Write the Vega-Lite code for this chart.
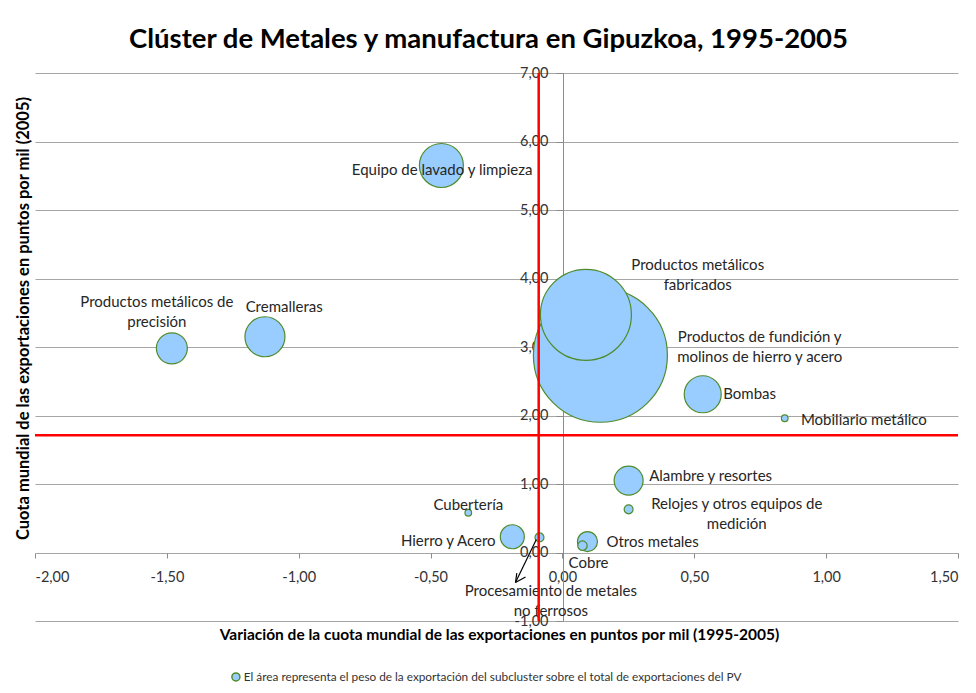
{
  "$schema": "https://vega.github.io/schema/vega-lite/v6.json",
  "width": 923,
  "height": 548,
  "autosize": {"type": "none"},
  "padding": {"left": 35, "top": 73, "right": 18, "bottom": 72},
  "background": "white",
  "config": {
    "view": {"stroke": null},
    "font": "Lato",
    "text": {"font": "Lato"}
  },
  "title": {
    "text": "Clúster de Metales y manufactura en Gipuzkoa, 1995-2005",
    "font": "Lato",
    "fontSize": 27.5,
    "fontWeight": "bold",
    "color": "#000000",
    "anchor": "middle",
    "frame": "group",
    "dx": -8,
    "offset": 12
  },
  "datasets": {
    "bubbles": [
      {"nombre": "Productos de fundición y molinos de hierro y acero", "x": 0.144, "y": 2.88, "peso": 22.45},
      {"nombre": "Productos metálicos fabricados", "x": 0.089, "y": 3.47, "peso": 10.35},
      {"nombre": "Equipo de lavado y limpieza", "x": -0.459, "y": 5.65, "peso": 2.42},
      {"nombre": "Cremalleras", "x": -1.128, "y": 3.15, "peso": 2.0},
      {"nombre": "Bombas", "x": 0.532, "y": 2.31, "peso": 1.71},
      {"nombre": "Productos metálicos de precisión", "x": -1.481, "y": 2.98, "peso": 1.2},
      {"nombre": "Alambre y resortes", "x": 0.251, "y": 1.05, "peso": 1.05},
      {"nombre": "Hierro y Acero", "x": -0.19, "y": 0.23, "peso": 0.72},
      {"nombre": "Otros metales", "x": 0.095, "y": 0.16, "peso": 0.5},
      {"nombre": "Cobre", "x": 0.076, "y": 0.1, "peso": 0.11},
      {"nombre": "Relojes y otros equipos de medición", "x": 0.251, "y": 0.63, "peso": 0.1},
      {"nombre": "Procesamiento de metales no ferrosos", "x": -0.087, "y": 0.22, "peso": 0.1},
      {"nombre": "Cubertería", "x": -0.357, "y": 0.58, "peso": 0.055},
      {"nombre": "Mobiliario metálico", "x": 0.843, "y": 1.96, "peso": 0.055}
    ],
    "labels": [
      {"texto": "Equipo de lavado y limpieza", "lx": -0.456, "ly": 5.59},
      {"texto": "Productos metálicos de\nprecisión", "lx": -1.538, "ly": 3.66},
      {"texto": "Cremalleras", "lx": -1.055, "ly": 3.58},
      {"texto": "Productos metálicos\nfabricados", "lx": 0.513, "ly": 4.19},
      {"texto": "Productos de fundición y\nmolinos de hierro y acero", "lx": 0.748, "ly": 3.14},
      {"texto": "Bombas", "lx": 0.71, "ly": 2.31},
      {"texto": "Mobiliario metálico", "lx": 1.143, "ly": 1.94},
      {"texto": "Alambre y resortes", "lx": 0.562, "ly": 1.12},
      {"texto": "Relojes y otros equipos de\nmedición", "lx": 0.661, "ly": 0.715},
      {"texto": "Cubertería", "lx": -0.357, "ly": 0.7},
      {"texto": "Hierro y Acero", "lx": -0.433, "ly": 0.175},
      {"texto": "Otros metales", "lx": 0.342, "ly": 0.146},
      {"texto": "Cobre", "lx": 0.099, "ly": -0.16},
      {"texto": "Procesamiento de metales\nno ferrosos", "lx": -0.044, "ly": -0.555}
    ],
    "arrow": [
      {"x": -0.099, "y": 0.19, "x2": -0.178, "y2": -0.438},
      {"x": -0.178, "y": -0.438, "x2": -0.173, "y2": -0.3},
      {"x": -0.178, "y": -0.438, "x2": -0.14, "y2": -0.358}
    ],
    "vref": [{"v": -0.09}],
    "href": [{"h": 1.71}]
  },
  "layer": [
    {
      "data": {"name": "bubbles"},
      "mark": {"type": "circle", "opacity": 1, "stroke": "#4E8C2A", "strokeWidth": 1.2},
      "encoding": {
        "x": {
          "field": "x", "type": "quantitative",
          "scale": {"domain": [-2, 1.5], "nice": false, "zero": false},
          "axis": {
            "orient": "bottom",
            "offset": -68,
            "values": [-2, -1.5, -1, -0.5, 0, 0.5, 1, 1.5],
            "labelExpr": "replace(replace(format(datum.value, '.2f'), '.', ','), '−', '-')",
            "grid": false,
            "domain": false,
            "ticks": true,
            "tickColor": "#8C8C8C",
            "tickSize": 5,
            "labelPadding": 12,
            "labelFont": "Lato",
            "labelFontSize": 14.5,
            "labelColor": "#333333",
            "title": "Variación de la cuota mundial de las exportaciones en puntos por mil (1995-2005)",
            "titleFont": "Lato",
            "titleFontSize": 15.5,
            "titleFontWeight": "bold",
            "titleColor": "#000000",
            "titleX": 464,
            "titleY": 81,
            "titleAlign": "center",
            "titleBaseline": "middle"
          }
        },
        "y": {
          "field": "y", "type": "quantitative",
          "scale": {"domain": [-1, 7], "nice": false, "zero": false},
          "axis": {
            "orient": "left",
            "offset": -528,
            "values": [-1, 0, 1, 2, 3, 4, 5, 6, 7],
            "labelExpr": "replace(replace(format(datum.value, '.2f'), '.', ','), '−', '-')",
            "grid": true,
            "gridColor": "#A6A6A6",
            "gridWidth": 1,
            "domain": true,
            "domainColor": "#8C8C8C",
            "tickColor": "#8C8C8C",
            "tickSize": 7,
            "labelPadding": 8,
            "labelFont": "Lato",
            "labelFontSize": 14.5,
            "labelColor": "#333333",
            "title": "Cuota mundial de las exportaciones en puntos por mil (2005)",
            "titleFont": "Lato",
            "titleFontSize": 16.5,
            "titleFontWeight": "bold",
            "titleColor": "#000000",
            "titleAngle": -90,
            "titleX": -540,
            "titleY": 245,
            "titleAlign": "center",
            "titleBaseline": "middle"
          }
        },
        "size": {
          "field": "peso", "type": "quantitative",
          "scale": {"type": "linear", "domain": [0, 23.12], "range": [0, 18496], "zero": true},
          "legend": null
        },
        "fill": {
          "datum": "El área representa el peso de la exportación del subcluster sobre el total de exportaciones del PV",
          "type": "nominal",
          "scale": {"range": ["#99CCFF"]},
          "legend": {
            "orient": "none",
            "legendX": 195,
            "legendY": 598,
            "title": null,
            "symbolType": "circle",
            "symbolSize": 64,
            "symbolStrokeColor": "#4E8C2A",
            "symbolStrokeWidth": 1.5,
            "symbolFillColor": "#99CCFF",
            "labelFont": "Lato",
            "labelFontSize": 11.8,
            "labelColor": "#333333",
            "labelLimit": 0,
            "labelOffset": 2
          }
        }
      }
    },
    {
      "data": {"name": "labels"},
      "mark": {"type": "text", "font": "Lato", "fontSize": 15, "color": "#262626", "align": "center", "baseline": "middle", "lineBreak": "\n", "lineHeight": 20},
      "encoding": {
        "x": {"field": "lx", "type": "quantitative"},
        "y": {"field": "ly", "type": "quantitative"},
        "text": {"field": "texto"}
      }
    },
    {
      "data": {"name": "arrow"},
      "mark": {"type": "rule", "color": "#000000", "strokeWidth": 1.2},
      "encoding": {
        "x": {"field": "x", "type": "quantitative"},
        "y": {"field": "y", "type": "quantitative"},
        "x2": {"field": "x2"},
        "y2": {"field": "y2"}
      }
    },
    {
      "data": {"name": "vref"},
      "mark": {"type": "rule", "color": "#FF0000", "strokeWidth": 2.5},
      "encoding": {
        "x": {"field": "v", "type": "quantitative"}
      }
    },
    {
      "data": {"name": "href"},
      "mark": {"type": "rule", "color": "#FF0000", "strokeWidth": 2.5},
      "encoding": {
        "y": {"field": "h", "type": "quantitative"}
      }
    }
  ]
}
